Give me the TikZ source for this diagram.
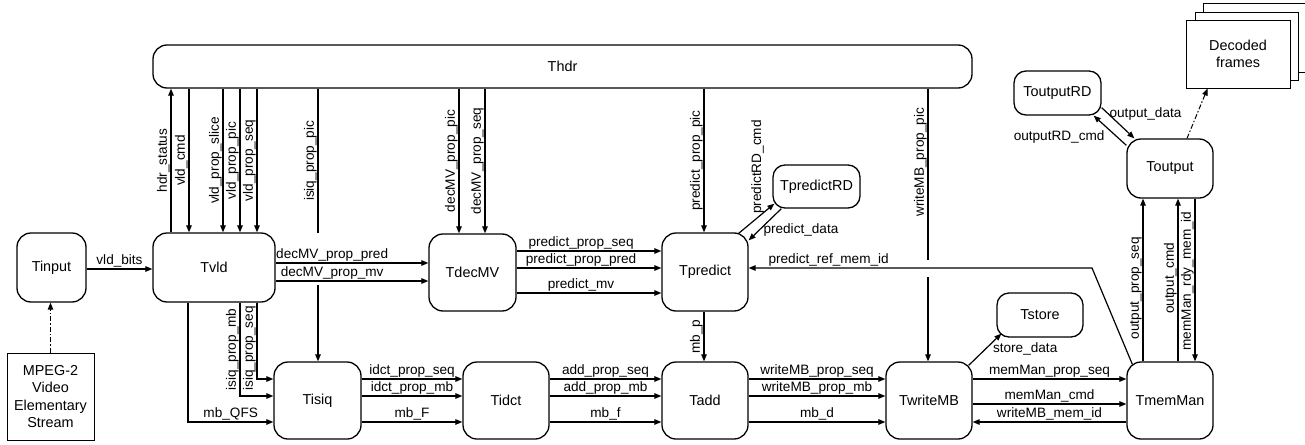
\documentclass[tikz,border=0pt]{standalone}
\usepackage{fontspec}
\setmainfont{Liberation Sans}
\usetikzlibrary{arrows.meta,calc}

\begin{document}
\begin{tikzpicture}[x=1pt,y=-1pt,
  wh/.style 2 args={minimum width=#1pt, minimum height=#2pt},
  task/.style={draw, rounded corners=14pt, line width=1.3pt, fill=white,
    font=\fontsize{14.4}{17}\selectfont, inner sep=0pt, align=center},
  aux/.style={task, rounded corners=12pt},
  plainbox/.style={draw, line width=0.95pt, fill=white,
    font=\fontsize{14.4}{17.5}\selectfont, inner sep=0pt, align=center},
  link/.style={line width=1.2pt},
  flow/.style={link, -{Triangle[length=7pt,width=5.5pt]}},
  source/.style={flow, line width=1pt, dash pattern=on 5pt off 2pt on 1.5pt off 2pt},
  lbl/.style={font=\fontsize{13.6}{16}\selectfont, inner sep=0.8pt},
  vlbl/.style={lbl, rotate=90, anchor=south},
  hlbl/.style={lbl, anchor=south},
]
\useasboundingbox (0,0) rectangle (1305,444);

% ---- stack of output frames
\node[plainbox, wh={103}{69}] (frames3) at (1254.5,37.5) {};
\node[plainbox, wh={103}{68}] (frames2) at (1246.5,46) {};
\node[plainbox, wh={104}{68}] (frames) at (1238,54) {Decoded\\frames};

% ---- tasks
\node[task, wh={819}{43}] (Thdr) at (562.5,66.5) {Thdr};
\node[task, wh={69}{69}] (Tinput) at (51.5,267.5) {Tinput};
\node[plainbox, wh={87}{87}] (MPEG) at (50.5,396.5) {MPEG-2\\Video\\Elementary\\Stream};
\node[task, wh={122}{69}] (Tvld) at (214,267.5) {Tvld};
\node[task, wh={87}{77}] (TdecMV) at (472.5,272.5) {TdecMV};
\node[task, wh={86}{78}] (Tpredict) at (705,272) {Tpredict};
\node[aux, wh={87}{43}] (TpredictRD) at (816.5,186.5) {TpredictRD};
\node[task, wh={87}{77}] (Tisiq) at (317.5,400.5) {Tisiq};
\node[task, wh={86}{77}] (Tidct) at (506,400.5) {Tidct};
\node[task, wh={86}{77}] (Tadd) at (705,400.5) {Tadd};
\node[task, wh={86}{77}] (TwriteMB) at (929,400.5) {TwriteMB};
\node[aux, wh={86}{44}] (Tstore) at (1040,315) {Tstore};
\node[task, wh={86}{77}] (TmemMan) at (1170,400.5) {TmemMan};
\node[task, wh={86}{59}] (Toutput) at (1170,168.5) {Toutput};
\node[aux, wh={87}{44}] (ToutputRD) at (1057.5,93) {ToutputRD};

% ---- input side
\draw[source] (MPEG.north) -- (Tinput.south -| MPEG.north);
\draw[flow] (Tinput.east |- 0,269) -- node[hlbl]{vld\_bits} (Tvld.west |- 0,269);

% ---- header task <-> vld
\draw[flow] (Tvld.north -| 171,0) -- node[vlbl]{hdr\_status} (Thdr.south -| 171,0);
\draw[flow] (Thdr.south -| 189,0) -- node[vlbl]{vld\_cmd} (Tvld.north -| 189,0);
\draw[flow] (Thdr.south -| 223,0) -- node[vlbl]{vld\_prop\_slice} (Tvld.north -| 223,0);
\draw[flow] (Thdr.south -| 240,0) -- node[vlbl]{vld\_prop\_pic} (Tvld.north -| 240,0);
\draw[flow] (Thdr.south -| 257,0) -- node[vlbl]{vld\_prop\_seq} (Tvld.north -| 257,0);

% ---- header task -> other tasks (bridged where lines cross)
\draw[flow] (Thdr.south -| 318,0) -- node[vlbl]{isiq\_prop\_pic} (318,233)
  (318,285) -- (Tisiq.north -| 318,0);
\draw[flow] (Thdr.south -| 459,0) -- node[vlbl]{decMV\_prop\_pic} (TdecMV.north -| 459,0);
\draw[flow] (Thdr.south -| 485,0) -- node[vlbl]{decMV\_prop\_seq} (TdecMV.north -| 485,0);
\draw[flow] (Thdr.south -| 704,0) -- node[vlbl]{predict\_prop\_pic} (Tpredict.north -| 704,0);
\draw[flow] (Thdr.south -| 928,0) -- node[vlbl,pos=0.43]{writeMB\_prop\_pic} (928,260)
  (928,277) -- (TwriteMB.north -| 928,0);

% ---- vld -> decMV
\draw[flow] (Tvld.east |- 0,263) -- node[hlbl,pos=0.37]{decMV\_prop\_pred} (TdecMV.west |- 0,263);
\draw[flow] (Tvld.east |- 0,281) -- node[hlbl,pos=0.37]{decMV\_prop\_mv} (TdecMV.west |- 0,281);

% ---- decMV -> predict
\draw[flow] (TdecMV.east |- 0,251) -- node[hlbl,pos=0.445]{predict\_prop\_seq} (Tpredict.west |- 0,251);
\draw[flow] (TdecMV.east |- 0,268) -- node[hlbl,pos=0.445]{predict\_prop\_pred} (Tpredict.west |- 0,268);
\draw[flow] (TdecMV.east |- 0,293) -- node[hlbl,pos=0.445]{predict\_mv} (Tpredict.west |- 0,293);

% ---- predict <-> predictRD
\draw[flow] ($(Tpredict.north east)+(-10,1)$) -- ($(TpredictRD.south west)+(2,-5)$);
\draw[flow] ($(TpredictRD.south west)+(9,0)$) -- node[lbl,pos=0.68,anchor=west,xshift=3pt]{predict\_data}
  ($(Tpredict.north east)+(0,8)$);
\node[lbl, rotate=90] (lblRDcmd) at (757.5,167) {predictRD\_cmd};

% ---- predict -> add
\draw[flow] (Tpredict.south -| 704,0) -- node[vlbl]{mb\_p} (Tadd.north -| 704,0);

% ---- vld -> isiq
\draw[flow] (Tvld.south -| 188,0) |- node[hlbl,pos=0.75]{mb\_QFS} (Tisiq.west |- 0,422);
\draw[flow] (Tvld.south -| 240,0) |- node[vlbl,pos=0.25]{isiq\_prop\_mb} (Tisiq.west |- 0,396);
\draw[flow] (Tvld.south -| 257,0) |- node[vlbl,pos=0.3]{isiq\_prop\_seq} (Tisiq.west |- 0,379);

% ---- bottom pipeline
\draw[flow] (Tisiq.east |- 0,379) -- node[hlbl]{idct\_prop\_seq} (Tidct.west |- 0,379);
\draw[flow] (Tisiq.east |- 0,396) -- node[hlbl]{idct\_prop\_mb} (Tidct.west |- 0,396);
\draw[flow] (Tisiq.east |- 0,422) -- node[hlbl]{mb\_F} (Tidct.west |- 0,422);

\draw[flow] (Tidct.east |- 0,379) -- node[hlbl]{add\_prop\_seq} (Tadd.west |- 0,379);
\draw[flow] (Tidct.east |- 0,396) -- node[hlbl]{add\_prop\_mb} (Tadd.west |- 0,396);
\draw[flow] (Tidct.east |- 0,422) -- node[hlbl]{mb\_f} (Tadd.west |- 0,422);

\draw[flow] (Tadd.east |- 0,379) -- node[hlbl]{writeMB\_prop\_seq} (TwriteMB.west |- 0,379);
\draw[flow] (Tadd.east |- 0,396) -- node[hlbl]{writeMB\_prop\_mb} (TwriteMB.west |- 0,396);
\draw[flow] (Tadd.east |- 0,422) -- node[hlbl]{mb\_d} (TwriteMB.west |- 0,422);

\draw[flow] (TwriteMB.east |- 0,379) -- node[hlbl]{memMan\_prop\_seq} (TmemMan.west |- 0,379);
\draw[flow] (TwriteMB.east |- 0,404) -- node[hlbl]{memMan\_cmd} (TmemMan.west |- 0,404);
\draw[flow] (TmemMan.west |- 0,422) -- node[hlbl]{writeMB\_mem\_id} (TwriteMB.east |- 0,422);

% ---- store
\draw[flow] ($(TwriteMB.north east)+(-4,4)$) -- node[lbl,pos=0.52,anchor=west,xshift=6pt]{store\_data}
  ($(Tstore.south west)+(5,-4)$);

% ---- memory manager -> predict
\draw[flow] ($(TmemMan.north west)+(6,3)$) -- (1092,268)
  -- node[hlbl,pos=0.767]{predict\_ref\_mem\_id} (Tpredict.east |- 0,268);

% ---- memory manager <-> output
\draw[flow] (TmemMan.north -| 1143,0) -- node[vlbl,pos=0.45]{output\_prop\_seq} (Toutput.south -| 1143,0);
\draw[flow] (TmemMan.north -| 1178,0) -- node[vlbl,pos=0.51]{output\_cmd} (Toutput.south -| 1178,0);
\draw[flow] (Toutput.south -| 1195,0) -- node[vlbl,pos=0.506]{memMan\_rdy\_mem\_id} (TmemMan.north -| 1195,0);

% ---- output <-> outputRD
\draw[flow] ($(ToutputRD.south east)+(0,-8)$) -- node[lbl,pos=0.2,anchor=west]{output\_data}
  ($(Toutput.north west)+(8,0)$);
\draw[flow] ($(Toutput.north west)+(0,7)$) -- node[lbl,pos=0.29,anchor=east,xshift=-11pt]{outputRD\_cmd}
  ($(ToutputRD.south east)+(-8,0)$);

% ---- output -> frames
\draw[source] (Toutput.north -| 1187,0) -- ($(frames.south west)+(22,0)$);
\end{tikzpicture}
\end{document}
